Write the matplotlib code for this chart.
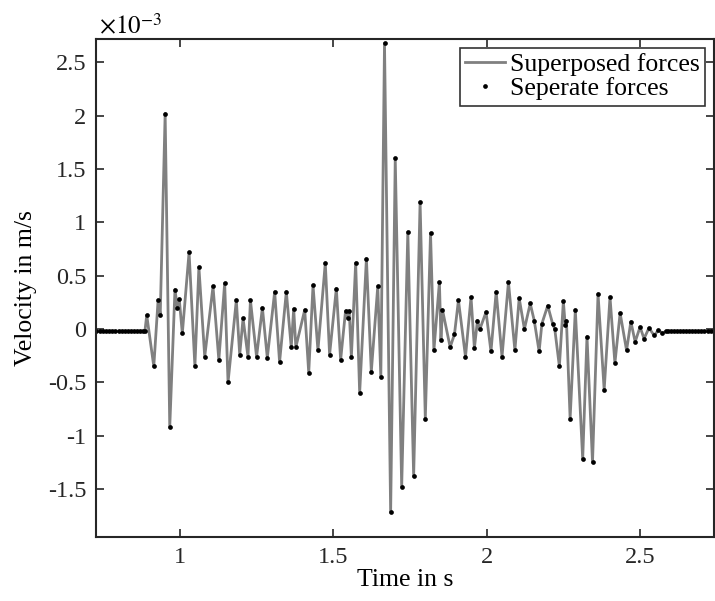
import matplotlib
matplotlib.use("Agg")
import matplotlib.pyplot as plt
import numpy as np

plt.rcParams['font.family'] = ['Liberation Serif', 'DejaVu Serif']
plt.rcParams['mathtext.fontset'] = 'stix'

# velocity in 1e-3 m/s
t_lead = [0.727, 0.74, 0.75, 0.76, 0.77, 0.78, 0.79, 0.80, 0.81, 0.82,
          0.83, 0.84, 0.85, 0.86, 0.87, 0.88]
v_lead = [-0.02] * len(t_lead)

t_active = [0.886, 0.892, 0.915, 0.929, 0.936, 0.952, 0.967, 0.984, 0.992, 0.998,
            1.008, 1.030, 1.049, 1.062, 1.081, 1.108, 1.127, 1.146, 1.157, 1.184,
            1.195, 1.206, 1.222, 1.230, 1.250, 1.269, 1.285, 1.309, 1.325, 1.347,
            1.363, 1.371, 1.378, 1.407, 1.420, 1.434, 1.450, 1.474, 1.488, 1.510,
            1.524, 1.540, 1.548, 1.552, 1.559, 1.573, 1.586, 1.608, 1.624, 1.645,
            1.655, 1.667, 1.687, 1.702, 1.723, 1.743, 1.762, 1.783, 1.800, 1.817,
            1.828, 1.846, 1.851, 1.856, 1.881, 1.895, 1.908, 1.931, 1.949, 1.960,
            1.970, 1.978, 1.998, 2.014, 2.031, 2.050, 2.071, 2.092, 2.106, 2.123,
            2.142, 2.155, 2.171, 2.180, 2.199, 2.215, 2.222, 2.237, 2.250, 2.256,
            2.260, 2.272, 2.289, 2.313, 2.327, 2.345, 2.363, 2.383, 2.402, 2.418,
            2.435, 2.456, 2.470, 2.484, 2.500, 2.513, 2.529, 2.546, 2.560, 2.573,
            2.585]
v_active = [-0.02, 0.13, -0.35, 0.27, 0.13, 2.02, -0.92, 0.37, 0.20, 0.28,
            -0.04, 0.72, -0.35, 0.58, -0.26, 0.40, -0.29, 0.43, -0.50, 0.27,
            -0.24, 0.10, -0.26, 0.27, -0.26, 0.20, -0.27, 0.35, -0.31, 0.35,
            -0.17, 0.19, -0.17, 0.18, -0.41, 0.41, -0.20, 0.62, -0.24, 0.38,
            -0.29, 0.17, 0.10, 0.17, -0.26, 0.62, -0.60, 0.66, -0.40, 0.40,
            -0.45, 2.68, -1.72, 1.60, -1.48, 0.91, -1.38, 1.19, -0.84, 0.90,
            -0.20, 0.44, -0.10, 0.18, -0.17, -0.05, 0.27, -0.26, 0.30, -0.18,
            0.08, 0.00, 0.16, -0.21, 0.35, -0.26, 0.44, -0.20, 0.29, 0.00,
            0.24, 0.08, -0.21, 0.05, 0.22, 0.05, 0.00, -0.35, 0.26, 0.04,
            0.08, -0.84, 0.18, -1.22, -0.07, -1.25, 0.33, -0.57, 0.30, -0.32,
            0.15, -0.20, 0.07, -0.12, 0.02, -0.09, 0.01, -0.06, -0.01, -0.04,
            -0.02]

t_tail = [2.59, 2.60, 2.61, 2.62, 2.63, 2.64, 2.65, 2.66, 2.67, 2.68,
          2.69, 2.70, 2.71, 2.72, 2.73, 2.74]
v_tail = [-0.02] * len(t_tail)

t = np.array(t_lead + t_active + t_tail)
v = np.array(v_lead + v_active + v_tail)

fig = plt.figure(figsize=(7.15, 6.01), dpi=100)
ax = fig.add_axes([0.1343, 0.1065, 0.8643, 0.8286])

ax.plot(t, v, color=(0.5, 0.5, 0.5), linewidth=2.0, label='Superposed forces')
ax.plot(t, v, 'o', color='k', markersize=3.4, markeredgewidth=0, label='Seperate forces')

ax.set_xlim(0.7267, 2.741)
ax.set_ylim(-1.95, 2.72)
ax.set_xticks([1, 1.5, 2, 2.5])
ax.set_xticklabels(['1', '1.5', '2', '2.5'])
ax.set_yticks([-1.5, -1, -0.5, 0, 0.5, 1, 1.5, 2, 2.5])
ax.set_yticklabels(['-1.5', '-1', '-0.5', '0', '0.5', '1', '1.5', '2', '2.5'])
ax.tick_params(direction='in', length=6, width=1.2, top=True, right=True,
               labelsize=17.5, colors='#262626', pad=7)
for s in ax.spines.values():
    s.set_linewidth(1.5)
    s.set_color('#262626')

ax.set_xlabel('Time in s', fontsize=18.5, labelpad=1)
ax.set_ylabel('Velocity in m/s', fontsize=18.5, labelpad=8)
fig.text(99 / 715, 1 - 34 / 601, r'$\times10^{-3}$', fontsize=18,
         ha='left', va='baseline')

leg = ax.legend(loc='upper right', fontsize=18.5, frameon=True, fancybox=False,
                edgecolor='k', borderaxespad=0.35, handlelength=1.55,
                handletextpad=0.2, borderpad=0.2, labelspacing=0.05)
leg.get_frame().set_linewidth(1.2)

fig.savefig('out.png', dpi=100)
